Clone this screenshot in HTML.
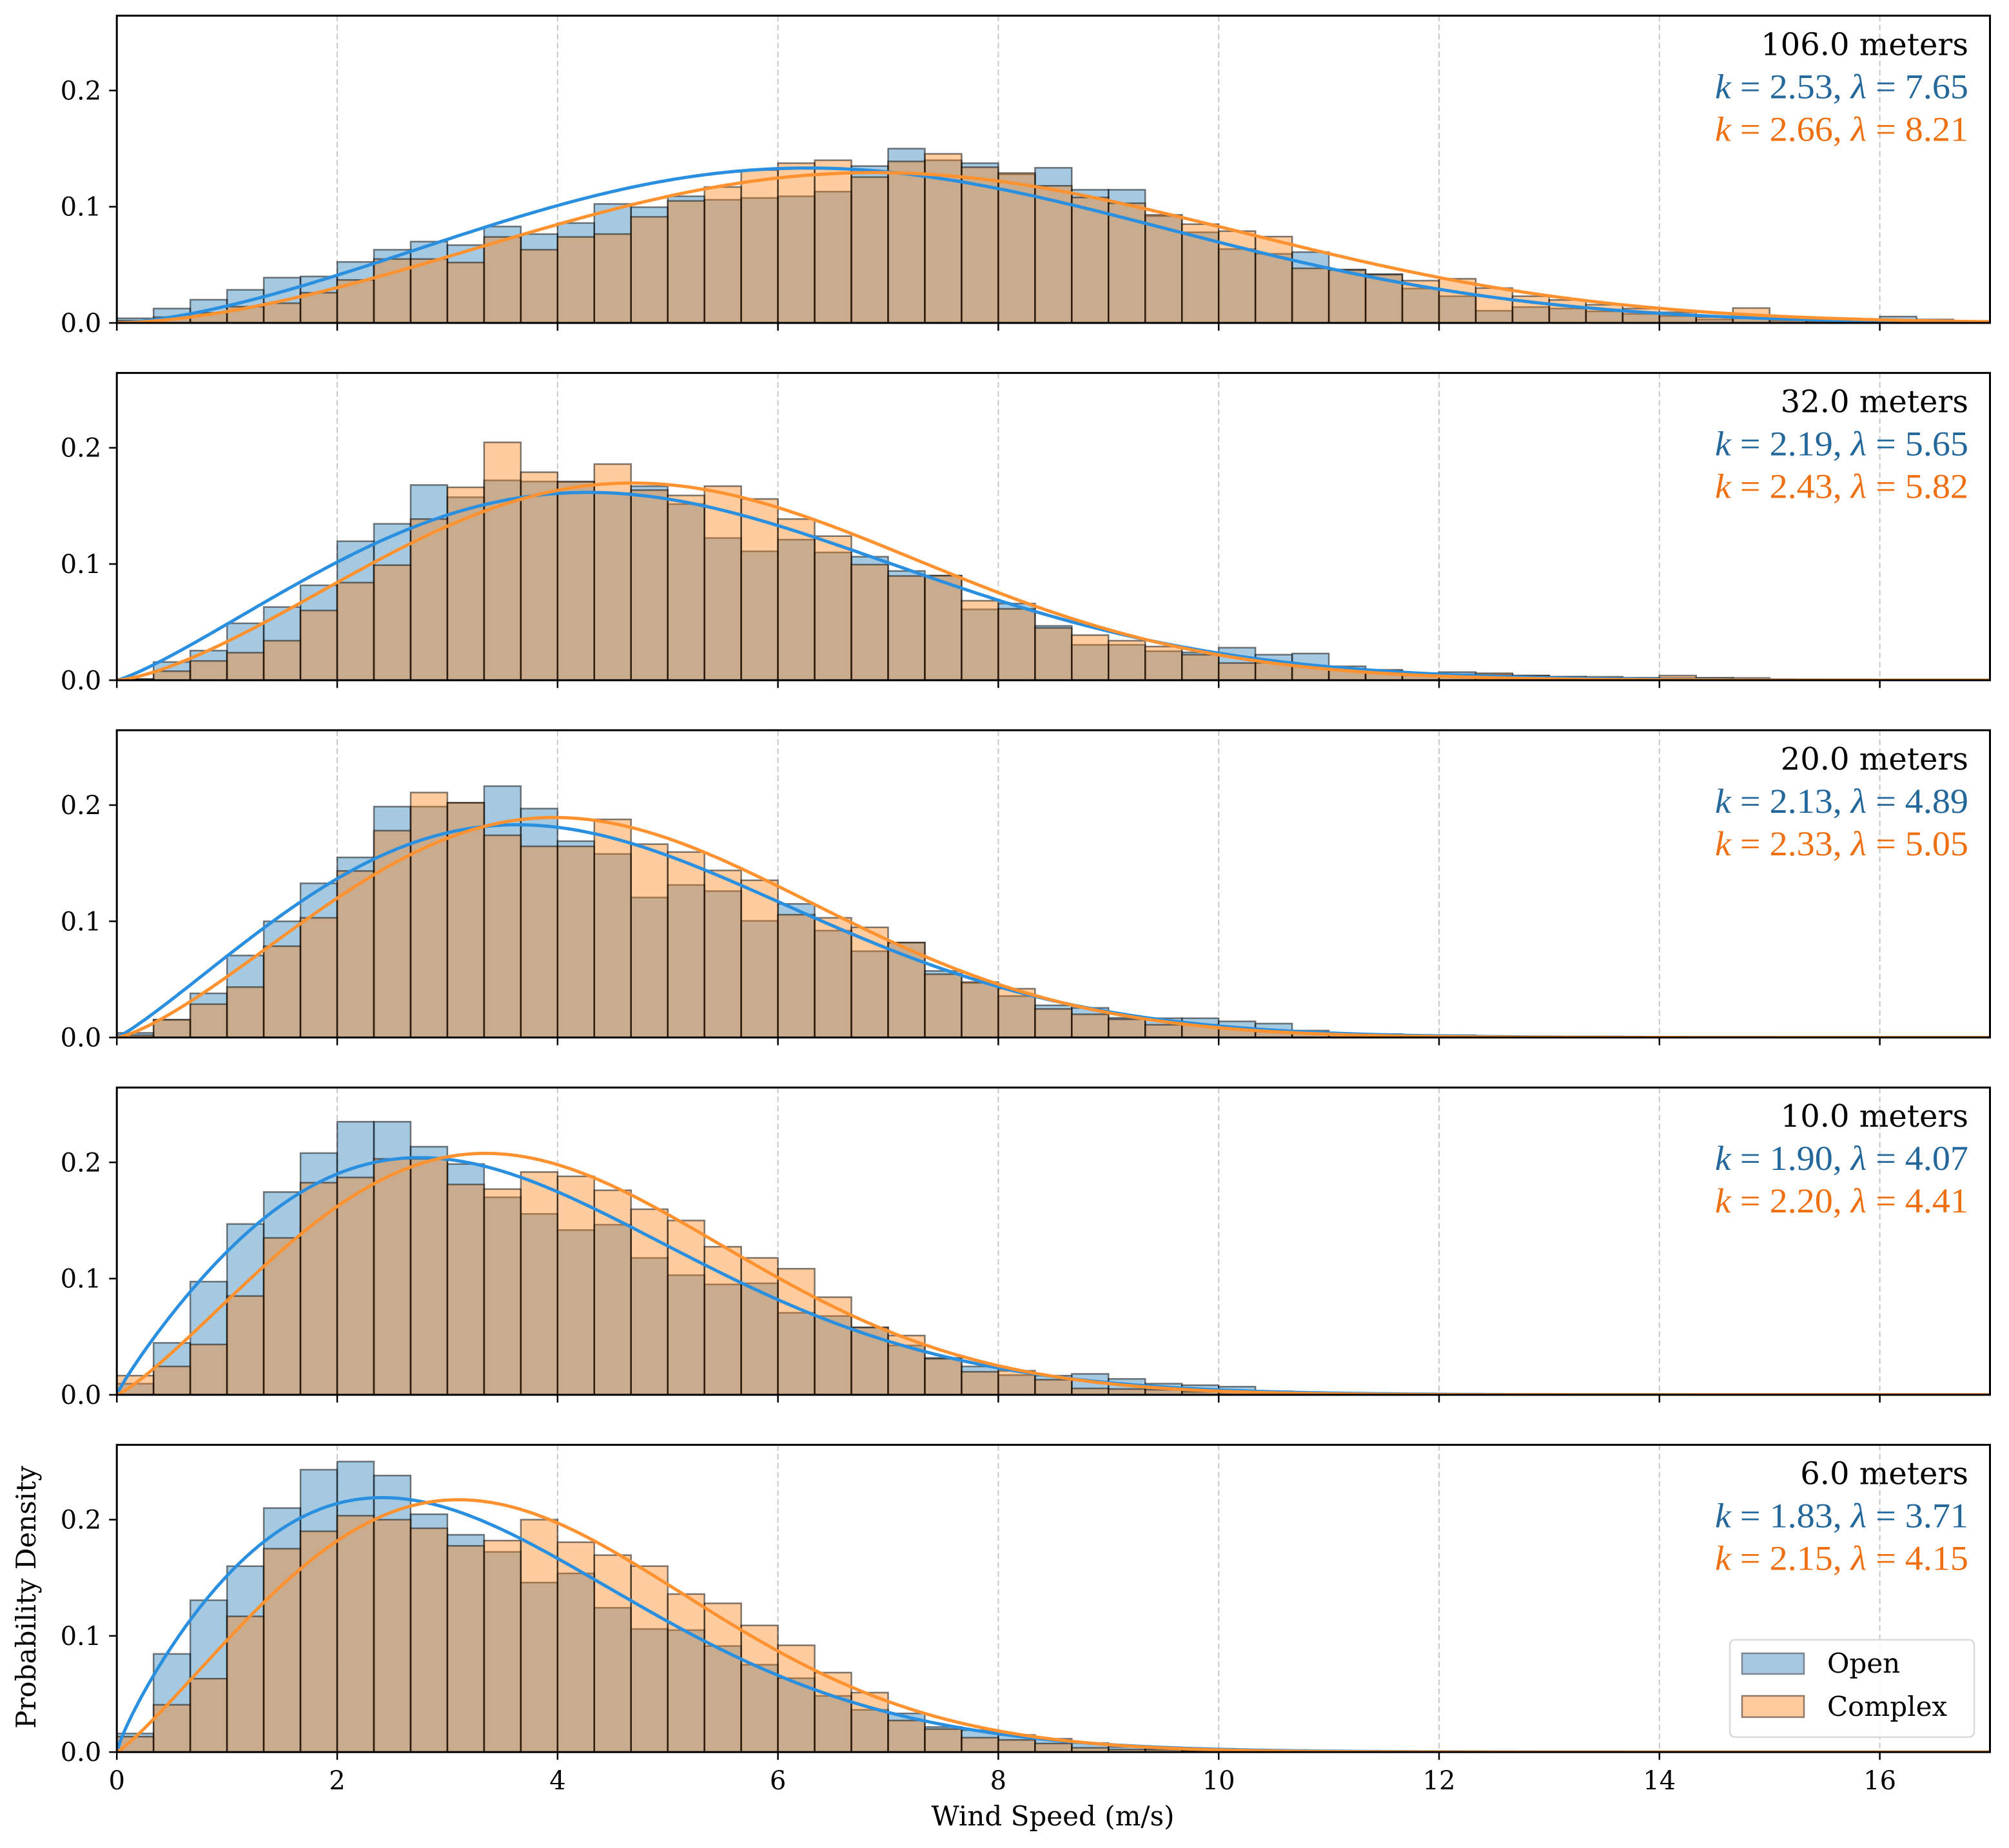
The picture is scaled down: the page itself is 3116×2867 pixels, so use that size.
<!DOCTYPE html>
<html><head><meta charset="utf-8"><style>
html,body{margin:0;padding:0;background:#fff;}
svg{display:block;}
</style></head><body>
<svg id="chart" xmlns="http://www.w3.org/2000/svg" width="3116" height="2867" viewBox="0 0 3116 2867"></svg>
<script>
const heights = ["106.0", "32.0", "20.0", "10.0", "6.0"];
const openK = [2.53, 2.19, 2.13, 1.90, 1.83];
const openLam = [7.65, 5.65, 4.89, 4.07, 3.71];
const complexK = [2.66, 2.43, 2.33, 2.20, 2.15];
const complexLam = [8.21, 5.82, 5.05, 4.41, 4.15];
const binWidth = 1/3;
const xTicks = [0, 2, 4, 6, 8, 10, 12, 14, 16];
const yTicks = [0.0, 0.1, 0.2];
const yTickLabels = ["0.0", "0.1", "0.2"];

const open106 = [0.004,0.0124,0.020,0.0285,0.039,0.040,0.0525,0.063,0.070,0.067,0.083,0.0765,0.086,0.1024,0.0996,0.109,0.106,0.1076,0.109,0.113,0.135,0.150,0.140,0.1375,0.128,0.1335,0.1146,0.1146,0.092,0.078,0.0636,0.0595,0.061,0.046,0.042,0.0296,0.023,0.0105,0.0137,0.0124,0.010,0.0078,0.006,0.003,0.004,0.002,0.0013,0.001,0.0055,0.001,0.0005];
const complex106 = [0.002,0.005,0.0087,0.014,0.017,0.026,0.037,0.055,0.055,0.052,0.074,0.063,0.074,0.0765,0.0913,0.105,0.117,0.1316,0.1375,0.14,0.1255,0.139,0.1455,0.134,0.129,0.118,0.108,0.103,0.093,0.085,0.079,0.0743,0.047,0.0455,0.0416,0.0364,0.038,0.030,0.023,0.0198,0.0157,0.0124,0.0092,0.005,0.0128,0.004,0.002,0.002,0.0015,0.003,0.001];
const open32 = [0.001,0.0157,0.0255,0.049,0.063,0.0817,0.1196,0.1346,0.168,0.1575,0.172,0.171,0.1706,0.161,0.167,0.1516,0.1224,0.111,0.121,0.110,0.1063,0.094,0.090,0.061,0.066,0.0468,0.0305,0.0305,0.025,0.024,0.028,0.022,0.023,0.012,0.009,0.006,0.007,0.005,0.004,0.003,0.003,0.002,0.002,0.002,0.001];
const complex32 = [0.001,0.0078,0.0166,0.0237,0.034,0.060,0.084,0.099,0.1387,0.166,0.2047,0.179,0.171,0.186,0.1636,0.159,0.167,0.156,0.1387,0.124,0.0995,0.0897,0.090,0.0684,0.0614,0.045,0.0388,0.034,0.029,0.022,0.0148,0.015,0.012,0.010,0.008,0.006,0.005,0.006,0.004,0.003,0.002,0.002,0.004,0.002,0.002];
const open20 = [0.004,0.0153,0.038,0.0706,0.100,0.1327,0.155,0.1987,0.1987,0.202,0.2163,0.197,0.169,0.158,0.1205,0.1313,0.126,0.1004,0.115,0.092,0.0743,0.0817,0.0573,0.047,0.0357,0.0277,0.0255,0.017,0.0166,0.0166,0.0139,0.012,0.006,0.003,0.003,0.002,0.002,0.001,0.001,0.001,0.001];
const complex20 = [0.002,0.0153,0.0287,0.0434,0.0786,0.103,0.1433,0.178,0.2108,0.202,0.174,0.1645,0.1645,0.1877,0.1664,0.1596,0.1438,0.1353,0.1057,0.103,0.0948,0.0817,0.0545,0.0477,0.042,0.0246,0.020,0.0157,0.011,0.011,0.008,0.005,0.004,0.003,0.002,0.002,0.001,0.001,0.001];
const open10 = [0.0096,0.0447,0.0974,0.147,0.1745,0.208,0.235,0.235,0.2135,0.1986,0.170,0.1557,0.1418,0.1464,0.1178,0.103,0.095,0.096,0.0706,0.0678,0.058,0.0425,0.0318,0.0244,0.017,0.0165,0.018,0.0137,0.0096,0.0083,0.007,0.003,0.002,0.001];
const complex10 = [0.0165,0.0244,0.0433,0.085,0.135,0.1825,0.187,0.203,0.203,0.181,0.177,0.1917,0.188,0.176,0.1597,0.150,0.1274,0.1178,0.1085,0.084,0.058,0.051,0.031,0.0198,0.0207,0.013,0.0055,0.005,0.0044,0.0026,0.002,0.001];
const open6 = [0.016,0.0845,0.1307,0.160,0.210,0.243,0.25,0.238,0.2047,0.187,0.1723,0.1459,0.1538,0.1242,0.106,0.105,0.0913,0.0752,0.0636,0.0484,0.0364,0.0333,0.0216,0.0189,0.0148,0.0115,0.0078,0.0044,0.003,0.001];
const complex6 = [0.0133,0.0407,0.0632,0.1168,0.175,0.19,0.2034,0.20,0.1926,0.1775,0.182,0.20,0.1806,0.1695,0.160,0.136,0.128,0.109,0.0919,0.0684,0.0512,0.0272,0.0198,0.0124,0.0105,0.0074,0.0037,0.0022,0.002,0.001];

const openSeries = [open106, open32, open20, open10, open6];
const complexSeries = [complex106, complex32, complex20, complex10, complex6];

const NS = "http://www.w3.org/2000/svg";
const svg = document.getElementById("chart");
const X0 = 181.2, PXU = 170.9, XMAX = 17;
const PANEL_TOP = 24.3, PANEL_STEP = 554.3, PANEL_H = 476.7, YMAX = 0.2644;
function xs(v){ return X0 + v*PXU; }
function mk(tag, attrs, parent){ const e=document.createElementNS(NS,tag); for(const k in attrs) e.setAttribute(k, attrs[k]); (parent||svg).appendChild(e); return e; }
function weibull(x,k,l){ if(x<=0) return 0; return (k/l)*Math.pow(x/l,k-1)*Math.exp(-Math.pow(x/l,k)); }

const defs = mk("defs",{});
for (let p=0;p<5;p++){
  const top = PANEL_TOP + p*PANEL_STEP, bot = top + PANEL_H;
  const ys = v => bot - v/YMAX*PANEL_H;
  const cp = mk("clipPath",{id:"clip"+p}, defs);
  mk("rect",{x:X0,y:top,width:XMAX*PXU,height:PANEL_H}, cp);
  const g = mk("g",{});
  
  
  for (const t of xTicks){ if (t===0) continue;
    const gl = mk("line",{x1:xs(t),x2:xs(t),y1:top,y2:bot,stroke:"#c8c8c8","stroke-width":2,"stroke-dasharray":"9,5"}, g);
    
    
  }
  const bars = mk("g",{"clip-path":"url(#clip"+p+")"}, g);
  const series = [[openSeries[p],"rgba(31,119,180,0.4)","open"],[complexSeries[p],"rgba(255,127,14,0.4)","complex"]];
  for (const [vals,fill,nm] of series){
    vals.forEach((v,i)=>{
      const x1 = xs(i*binWidth), x2 = xs((i+1)*binWidth);
      const r = mk("rect",{x:x1,y:ys(v),width:x2-x1,height:bot-ys(v),fill:fill,stroke:"rgba(0,0,0,0.5)","stroke-width":2.5}, bars);
      
      
    });
  }
  const curves = [[openK[p],openLam[p],"#2a8fdf","open"],[complexK[p],complexLam[p],"#ff9230","complex"]];
  for (const [k,l,col,nm] of curves){
    let d="";
    for (let i=0;i<=600;i++){ const x=XMAX*i/600; d += (i?"L":"M")+xs(x).toFixed(1)+","+ys(weibull(x,k,l)).toFixed(1); }
    const pth = mk("path",{d:d,fill:"none",stroke:col,"stroke-width":5,"clip-path":"url(#clip"+p+")"}, g);
    
    
  }
  const fr = mk("rect",{x:X0,y:top,width:XMAX*PXU,height:PANEL_H,fill:"none",stroke:"#000","stroke-width":3}, g);
  
  
  yTicks.forEach((t,i)=>{
    mk("line",{x1:X0-12,x2:X0,y1:ys(t),y2:ys(t),stroke:"#000","stroke-width":2.5}, g);
    const tl = mk("text",{x:X0-24,y:ys(t)+14,"text-anchor":"end","font-family":"DejaVu Serif, Liberation Serif, serif","font-size":40,fill:"#000"}, g);
    tl.textContent = yTickLabels[i];
    
    
  });
  for (const t of xTicks){
    mk("line",{x1:xs(t),x2:xs(t),y1:bot,y2:bot+12,stroke:"#000","stroke-width":2.5}, g);
    if (p===4){
      const tl = mk("text",{x:xs(t),y:bot+58,"text-anchor":"middle","font-family":"DejaVu Serif, Liberation Serif, serif","font-size":40,fill:"#000"}, g);
      tl.textContent = String(t);
      
      
    }
  }
  const tt = mk("text",{x:3053,y:top+61,"text-anchor":"end","font-family":"DejaVu Serif, Liberation Serif, serif","font-size":48,fill:"#000"}, g);
  tt.textContent = heights[p] + " meters";
  
  
  const ann = [[openK[p],openLam[p],"#23679b",128,"open"],[complexK[p],complexLam[p],"#ee7012",194,"complex"]];
  for (const [k,l,col,off,nm] of ann){
    const t = mk("text",{x:3053,y:top+off,"text-anchor":"end","font-family":"Liberation Serif, serif","font-size":54,fill:col,textLength:393,lengthAdjust:"spacingAndGlyphs"}, g);
    t.innerHTML = '<tspan font-style="italic">k</tspan> = ' + k.toFixed(2) + ', <tspan font-style="italic">λ</tspan> = ' + l.toFixed(2);
    
    
  }
}
const lg = mk("g",{});


mk("rect",{x:2683,y:2544,width:379,height:151,rx:8,fill:"rgba(255,255,255,0.85)",stroke:"#d9d9d9","stroke-width":2.5}, lg);
const le1 = mk("rect",{x:2702,y:2565,width:96,height:32,fill:"#a6c8e1",stroke:"#7a8590","stroke-width":2.5}, lg);


const le2 = mk("rect",{x:2702,y:2631,width:96,height:33,fill:"#ffca9c",stroke:"#8f7a68","stroke-width":2.5}, lg);


const lt1 = mk("text",{x:2834,y:2595,"font-family":"DejaVu Serif, Liberation Serif, serif","font-size":42,fill:"#000"}, lg);
lt1.textContent = "Open";


const lt2 = mk("text",{x:2834,y:2662,"font-family":"DejaVu Serif, Liberation Serif, serif","font-size":42,fill:"#000"}, lg);
lt2.textContent = "Complex";


const xl = mk("text",{x:1633,y:2832,"text-anchor":"middle","font-family":"DejaVu Serif, Liberation Serif, serif","font-size":42,fill:"#000"});
xl.textContent = "Wind Speed (m/s)";


const yl = mk("text",{x:0,y:0,"text-anchor":"middle","font-family":"DejaVu Serif, Liberation Serif, serif","font-size":42,fill:"#000",transform:"translate(55,2478) rotate(-90)"});
yl.textContent = "Probability Density";


</script>
</body></html>
